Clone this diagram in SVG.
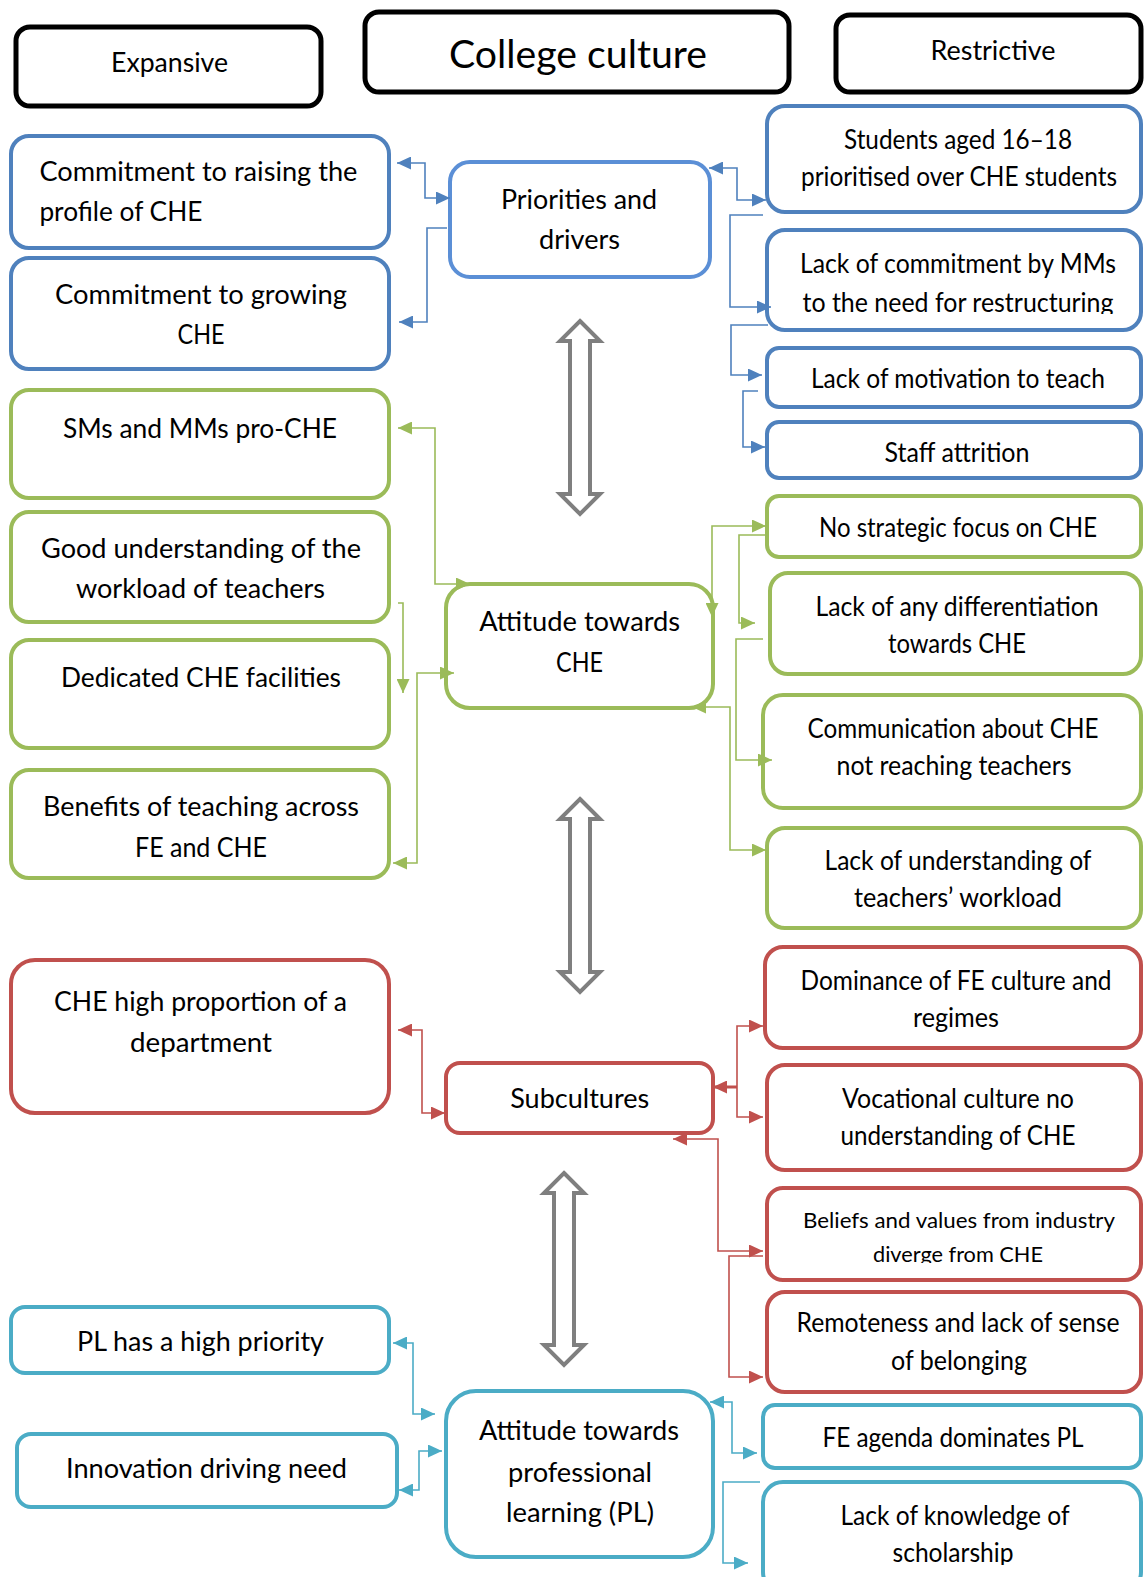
<svg xmlns="http://www.w3.org/2000/svg" width="1145" height="1577" viewBox="0 0 1145 1577">
  <style>
    text { font-family: Lato, "Open Sans", "Liberation Sans", sans-serif; font-size: 26px; fill: #000; text-anchor: middle; }
    .hdr { fill: #fff; stroke: #000; stroke-width: 5; }
    .box { fill: #fff; stroke-width: 4; }
    .blue { stroke: #4F81BD; }
    .blue2 { stroke: #5B8FD6; }
    .green { stroke: #9BBB59; }
    .red { stroke: #C0504D; }
    .teal { stroke: #4BACC6; }
    .ln { fill: none; stroke-width: 1.6; }
    .lb { stroke: #4F81BD; marker-end: url(#ab); }
    .lbb { stroke: #4F81BD; marker-start: url(#ab); marker-end: url(#ab); }
    .lg { stroke: #9BBB59; marker-end: url(#ag); }
    .lgg { stroke: #9BBB59; marker-start: url(#ag); marker-end: url(#ag); }
    .lr { stroke: #C0504D; marker-end: url(#ar); }
    .lrr { stroke: #C0504D; marker-start: url(#ar); marker-end: url(#ar); }
    .lt { stroke: #4BACC6; marker-end: url(#at); }
    .ltt { stroke: #4BACC6; marker-start: url(#at); marker-end: url(#at); }
    .dbl { fill: #fff; stroke: #7F7F7F; stroke-width: 4; stroke-linejoin: miter; }
    .sm { font-size: 22px; }
    .st { text-anchor: start; }
  </style>
  <defs>
    <marker id="ab" markerUnits="userSpaceOnUse" markerWidth="15" markerHeight="13" refX="14" refY="6.5" orient="auto-start-reverse"><path d="M0,0 L14,6.5 L0,13 z" fill="#4F81BD"/></marker>
    <marker id="ag" markerUnits="userSpaceOnUse" markerWidth="15" markerHeight="13" refX="14" refY="6.5" orient="auto-start-reverse"><path d="M0,0 L14,6.5 L0,13 z" fill="#9BBB59"/></marker>
    <marker id="ar" markerUnits="userSpaceOnUse" markerWidth="15" markerHeight="13" refX="14" refY="6.5" orient="auto-start-reverse"><path d="M0,0 L14,6.5 L0,13 z" fill="#C0504D"/></marker>
    <marker id="at" markerUnits="userSpaceOnUse" markerWidth="15" markerHeight="13" refX="14" refY="6.5" orient="auto-start-reverse"><path d="M0,0 L14,6.5 L0,13 z" fill="#4BACC6"/></marker>
    <clipPath id="cutRestr"><rect x="760" y="225" width="385" height="89"/></clipPath>
    <clipPath id="cutBeliefs"><rect x="760" y="1185" width="385" height="78"/></clipPath>
    <clipPath id="cutScholar"><rect x="756" y="1478" width="389" height="87"/></clipPath>
  </defs>

  <!-- headers -->
  <g id="hdr-expansive"><rect class="hdr" x="16" y="27" width="305" height="79" rx="14"/><text x="169.5" y="72" textLength="117" lengthAdjust="spacingAndGlyphs">Expansive</text></g>
  <g id="hdr-college"><rect class="hdr" x="365" y="12" width="424" height="80" rx="14"/><text x="578" y="68" style="font-size:38px" textLength="258" lengthAdjust="spacingAndGlyphs">College culture</text></g>
  <g id="hdr-restrictive"><rect class="hdr" x="836" y="15" width="305" height="77" rx="14"/><text x="993" y="60" textLength="125" lengthAdjust="spacingAndGlyphs">Restrictive</text></g>

  <!-- central themes -->
  <g id="priorities"><rect class="box blue2" x="450" y="162" width="260" height="115" rx="20"/><text x="579" y="209" textLength="156" lengthAdjust="spacingAndGlyphs">Priorities and</text><text x="579.5" y="249" textLength="81" lengthAdjust="spacingAndGlyphs">drivers</text></g>
  <g id="attitude-che"><rect class="box green" x="446" y="584" width="267" height="124" rx="24"/><text x="579.7" y="631" textLength="201" lengthAdjust="spacingAndGlyphs">Attitude towards</text><text x="579.5" y="672" textLength="47" lengthAdjust="spacingAndGlyphs">CHE</text></g>
  <g id="subcultures"><rect class="box red" x="446" y="1063" width="267" height="70" rx="14"/><text x="579.7" y="1108" textLength="139" lengthAdjust="spacingAndGlyphs">Subcultures</text></g>
  <g id="attitude-pl"><rect class="box teal" x="446" y="1391" width="267" height="166" rx="30"/><text x="579" y="1440" textLength="200" lengthAdjust="spacingAndGlyphs">Attitude towards</text><text x="580" y="1482" textLength="144" lengthAdjust="spacingAndGlyphs">professional</text><text x="580" y="1522" textLength="148" lengthAdjust="spacingAndGlyphs">learning (PL)</text></g>

  <!-- expansive factors -->
  <g id="e-raising"><rect class="box blue" x="11" y="136" width="378" height="112" rx="18"/><text class="st" x="39.4" y="181" textLength="318" lengthAdjust="spacingAndGlyphs">Commitment to raising the</text><text class="st" x="39.4" y="221" textLength="163" lengthAdjust="spacingAndGlyphs">profile of CHE</text></g>
  <g id="e-growing"><rect class="box blue" x="11" y="258" width="378" height="111" rx="18"/><text x="201" y="304" textLength="292" lengthAdjust="spacingAndGlyphs">Commitment to growing</text><text x="201" y="344" textLength="47" lengthAdjust="spacingAndGlyphs">CHE</text></g>
  <g id="e-pro-che"><rect class="box green" x="11" y="390" width="378" height="108" rx="18"/><text x="200" y="438" textLength="274" lengthAdjust="spacingAndGlyphs">SMs and MMs pro-CHE</text></g>
  <g id="e-workload"><rect class="box green" x="11" y="512" width="378" height="110" rx="18"/><text x="201" y="558" textLength="320" lengthAdjust="spacingAndGlyphs">Good understanding of the</text><text x="200.5" y="598" textLength="249" lengthAdjust="spacingAndGlyphs">workload of teachers</text></g>
  <g id="e-facilities"><rect class="box green" x="11" y="640" width="378" height="108" rx="18"/><text x="201" y="687" textLength="280" lengthAdjust="spacingAndGlyphs">Dedicated CHE facilities</text></g>
  <g id="e-benefits"><rect class="box green" x="11" y="770" width="378" height="108" rx="18"/><text x="201" y="816" textLength="316" lengthAdjust="spacingAndGlyphs">Benefits of teaching across</text><text x="201" y="857" textLength="132" lengthAdjust="spacingAndGlyphs">FE and CHE</text></g>
  <g id="e-proportion"><rect class="box red" x="11" y="960" width="378" height="153" rx="24"/><text x="200.5" y="1011" textLength="293" lengthAdjust="spacingAndGlyphs">CHE high proportion of a</text><text x="201" y="1052" textLength="142" lengthAdjust="spacingAndGlyphs">department</text></g>
  <g id="e-pl-priority"><rect class="box teal" x="11" y="1307" width="378" height="66" rx="14"/><text x="200.5" y="1351" textLength="247" lengthAdjust="spacingAndGlyphs">PL has a high priority</text></g>
  <g id="e-innovation"><rect class="box teal" x="17" y="1434" width="380" height="73" rx="14"/><text x="206.5" y="1478" textLength="281" lengthAdjust="spacingAndGlyphs">Innovation driving need</text></g>

  <!-- restrictive factors -->
  <g id="r-students"><rect class="box blue" x="767" y="106" width="374" height="106" rx="18"/><text x="958" y="149" textLength="228" lengthAdjust="spacingAndGlyphs">Students aged 16–18</text><text x="959" y="186" textLength="316" lengthAdjust="spacingAndGlyphs">prioritised over CHE students</text></g>
  <g id="r-commitment"><rect class="box blue" x="767" y="230" width="374" height="100" rx="18"/><text x="958" y="273" textLength="316" lengthAdjust="spacingAndGlyphs">Lack of commitment by MMs</text><text x="958" y="312" clip-path="url(#cutRestr)" textLength="311" lengthAdjust="spacingAndGlyphs">to the need for restructuring</text></g>
  <g id="r-motivation"><rect class="box blue" x="767" y="348" width="374" height="59" rx="12"/><text x="958" y="388" textLength="294" lengthAdjust="spacingAndGlyphs">Lack of motivation to teach</text></g>
  <g id="r-attrition"><rect class="box blue" x="767" y="422" width="374" height="56" rx="12"/><text x="957" y="462" textLength="145" lengthAdjust="spacingAndGlyphs">Staff attrition</text></g>
  <g id="r-focus"><rect class="box green" x="767" y="496" width="374" height="61" rx="12"/><text x="958" y="537" textLength="278" lengthAdjust="spacingAndGlyphs">No strategic focus on CHE</text></g>
  <g id="r-differentiation"><rect class="box green" x="770" y="573" width="371" height="101" rx="18"/><text x="957" y="616" textLength="283" lengthAdjust="spacingAndGlyphs">Lack of any differentiation</text><text x="957" y="653" textLength="138" lengthAdjust="spacingAndGlyphs">towards CHE</text></g>
  <g id="r-communication"><rect class="box green" x="763" y="695" width="378" height="113" rx="20"/><text x="953" y="738" textLength="291" lengthAdjust="spacingAndGlyphs">Communication about CHE</text><text x="954" y="775" textLength="235" lengthAdjust="spacingAndGlyphs">not reaching teachers</text></g>
  <g id="r-understanding"><rect class="box green" x="767" y="828" width="374" height="100" rx="18"/><text x="958" y="870" textLength="267" lengthAdjust="spacingAndGlyphs">Lack of understanding of</text><text x="958" y="907" textLength="208" lengthAdjust="spacingAndGlyphs">teachers’ workload</text></g>
  <g id="r-dominance"><rect class="box red" x="765" y="947" width="376" height="101" rx="18"/><text x="956" y="990" textLength="311" lengthAdjust="spacingAndGlyphs">Dominance of FE culture and</text><text x="956" y="1027" textLength="86" lengthAdjust="spacingAndGlyphs">regimes</text></g>
  <g id="r-vocational"><rect class="box red" x="767" y="1065" width="374" height="105" rx="18"/><text x="958" y="1108" textLength="232" lengthAdjust="spacingAndGlyphs">Vocational culture no</text><text x="958" y="1145" textLength="235" lengthAdjust="spacingAndGlyphs">understanding of CHE</text></g>
  <g id="r-beliefs"><rect class="box red" x="767" y="1188" width="374" height="92" rx="16"/><text class="sm" x="959" y="1228" textLength="312" lengthAdjust="spacingAndGlyphs">Beliefs and values from industry</text><text class="sm" x="958" y="1262" clip-path="url(#cutBeliefs)" textLength="170" lengthAdjust="spacingAndGlyphs">diverge from CHE</text></g>
  <g id="r-remoteness"><rect class="box red" x="767" y="1292" width="374" height="100" rx="18"/><text x="958" y="1332" textLength="323" lengthAdjust="spacingAndGlyphs">Remoteness and lack of sense</text><text x="959" y="1370" textLength="136" lengthAdjust="spacingAndGlyphs">of belonging</text></g>
  <g id="r-fe-agenda"><rect class="box teal" x="763" y="1405" width="378" height="63" rx="12"/><text x="953" y="1447" textLength="261" lengthAdjust="spacingAndGlyphs">FE agenda dominates PL</text></g>
  <g id="r-scholarship"><rect class="box teal" x="763" y="1482" width="378" height="110" rx="20"/><text x="955" y="1525" textLength="229" lengthAdjust="spacingAndGlyphs">Lack of knowledge of</text><text x="953" y="1562" clip-path="url(#cutScholar)" textLength="121" lengthAdjust="spacingAndGlyphs">scholarship</text></g>

  <!-- connectors -->
  <g id="connectors">
    <!-- priorities and drivers -->
    <path class="ln lbb" d="M397,163 H425 V198 H450"/>
    <path class="ln lb" d="M447,228 H427 V322 H399"/>
    <path class="ln lbb" d="M709,168 H737 V200 H766"/>
    <path class="ln lb" d="M763,215 H730 V307 H771"/>
    <path class="ln lb" d="M768,325 H731 V375 H762"/>
    <path class="ln lb" d="M758,391 H743 V447 H765"/>
    <!-- attitude towards CHE -->
    <path class="ln lgg" d="M398,428 H435 V584 H470"/>
    <path class="ln lg" d="M398,603 H403 V693"/>
    <path class="ln lgg" d="M454,673 H417 V863 H393"/>
    <path class="ln lgg" d="M712,617 V526 H766"/>
    <path class="ln lg" d="M765,535 H739 V623 H755"/>
    <path class="ln lg" d="M763,639 H736 V760 H772"/>
    <path class="ln lgg" d="M692,707 H730 V850 H766"/>
    <!-- subcultures -->
    <path class="ln lrr" d="M398,1030 H422 V1113 H445"/>
    <path class="ln lr" d="M737,1087 H713" style="stroke-width:3"/>
    <path class="ln lrr" d="M763,1026 H737 V1117 H763"/>
    <path class="ln lrr" d="M673,1139 H718 V1251 H763"/>
    <path class="ln lr" d="M763,1256 H729 V1377 H763"/>
    <!-- attitude towards professional learning -->
    <path class="ln ltt" d="M393,1343 H413 V1414 H435"/>
    <path class="ln ltt" d="M399,1490 H419 V1451 H442"/>
    <path class="ln ltt" d="M710,1402 H732 V1453 H757"/>
    <path class="ln lt" d="M760,1482 H723 V1563 H748"/>
  </g>

  <!-- two-way links between themes -->
  <g id="links">
    <polygon class="dbl" points="580,321 600,341 590,341 590,494 600,494 580,514 560,494 570,494 570,341 560,341"/>
    <polygon class="dbl" points="580,799 600,819 590,819 590,972 600,972 580,992 560,972 570,972 570,819 560,819"/>
    <polygon class="dbl" points="564,1173 584,1193 574,1193 574,1345 584,1345 564,1365 544,1345 554,1345 554,1193 544,1193"/>
  </g>
</svg>
